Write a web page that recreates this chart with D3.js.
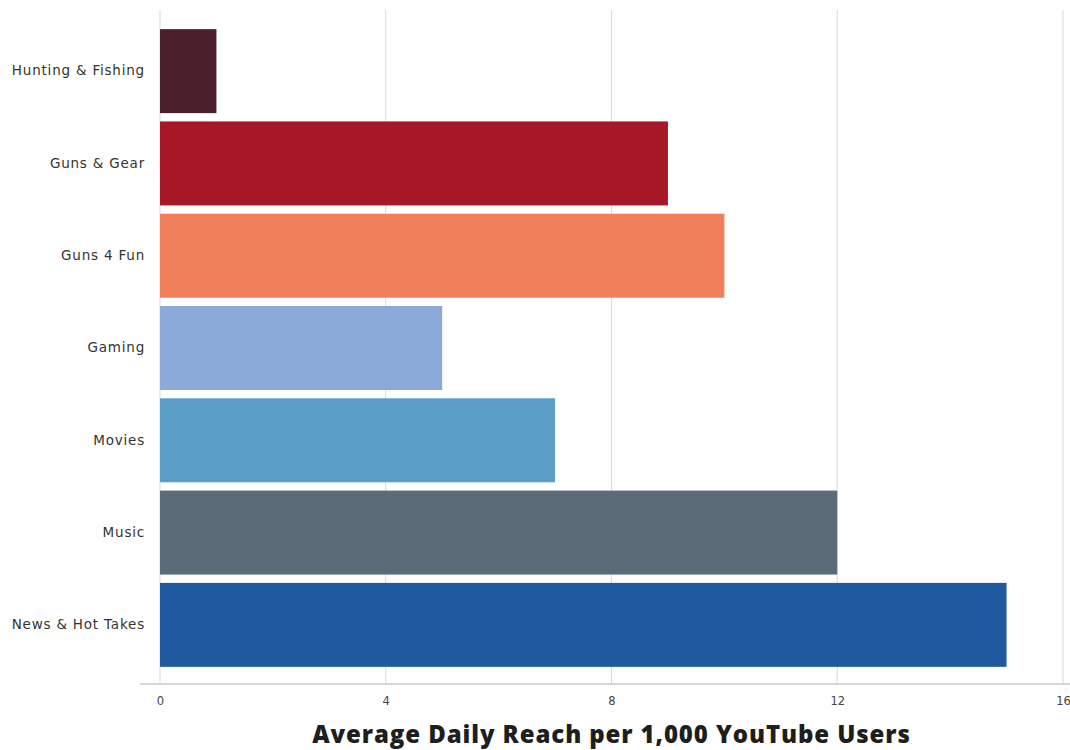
<!DOCTYPE html>
<html>
<head>
<meta charset="utf-8">
<script src="https://cdn.jsdelivr.net/npm/d3@7"></script>
<style>
  body { margin: 0; background: #fff; }
  svg { display: block; }
</style>
</head>
<body>
<div id="chart"></div>
<script>
// data
const categories = ["Hunting & Fishing", "Guns & Gear", "Guns 4 Fun", "Gaming", "Movies", "Music", "News & Hot Takes"];
const values = [1, 9, 10, 5, 7, 12, 15];
const colors = ["#4b1f2b", "#a71827", "#ee7f5a", "#8ba9d9", "#5b9ec8", "#5b6b78", "#1f5aa0"];
const xTicks = [0, 4, 8, 12, 16];
const xTitle = "Average Daily Reach per 1,000 YouTube Users";

const W = 1070, H = 750;
const svg = d3.select("#chart").append("svg")
  .attr("width", W)
  .attr("height", H);

const x = d3.scaleLinear().domain([0, 16]).range([160, 1063]);
const y = d3.scaleBand().domain(categories).range([25, 671]).paddingInner(0.09).paddingOuter(0.045);
const axisY = 684;

// gridlines
svg.append("g")
  .selectAll("line")
  .data(xTicks)
  .join("line")
  .attr("x1", d => x(d))
  .attr("x2", d => x(d))
  .attr("y1", 10)
  .attr("y2", axisY)
  .attr("stroke", "#d9d9d9")
  .attr("stroke-width", 1);

// bars
svg.append("g")
  .selectAll("rect")
  .data(categories)
  .join("rect")
  .attr("x", x(0))
  .attr("y", d => y(d))
  .attr("width", (d, i) => x(values[i]) - x(0))
  .attr("height", y.bandwidth())
  .attr("fill", (d, i) => colors[i]);

// x axis
const xAxis = svg.append("g")
  .attr("transform", `translate(0,${axisY})`)
  .call(d3.axisBottom(x).tickValues(xTicks).tickSize(0).tickPadding(13));
xAxis.select(".domain").remove();
xAxis.append("line")
  .attr("x1", 140).attr("x2", 1070)
  .attr("stroke", "#c8c8c8").attr("stroke-width", 1.5);
xAxis.selectAll("text")
  .attr("font-family", "'DejaVu Sans', sans-serif")
  .attr("font-size", 11.5)
  .attr("fill", "#444");

// y axis labels
const yAxis = svg.append("g")
  .attr("transform", `translate(${x(0)},0)`)
  .call(d3.axisLeft(y).tickSize(0).tickPadding(15));
yAxis.select(".domain").remove();
yAxis.selectAll("text")
  .attr("font-family", "'DejaVu Sans', sans-serif")
  .attr("font-size", 13.5)
  .attr("letter-spacing", 0.8)
  .attr("fill", "#333");

// axis title
svg.append("text")
  .attr("x", (x(0) + x(16)) / 2)
  .attr("y", 743)
  .attr("text-anchor", "middle")
  .attr("font-family", "'Open Sans', Roboto, sans-serif")
  .attr("font-weight", 800)
  .attr("font-size", 24)
  .attr("letter-spacing", 0.9)
  .attr("fill", "#1e1e1e")
  .text(xTitle);
</script>
</body>
</html>
